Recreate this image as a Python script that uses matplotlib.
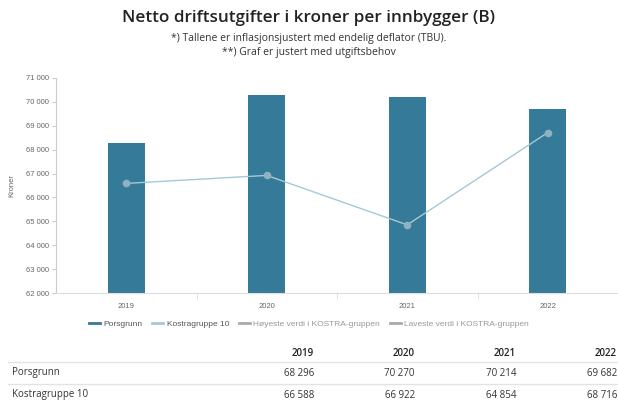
import numpy as np
import matplotlib
matplotlib.use("Agg")
import matplotlib.pyplot as plt
from matplotlib.lines import Line2D

years = ["2019", "2020", "2021", "2022"]
porsgrunn = [68296, 70270, 70214, 69682]
kostra10 = [66588, 66922, 64854, 68716]
legend_labels = ["Porsgrunn", "Kostragruppe 10",
                 "Høyeste verdi i KOSTRA-gruppen", "Laveste verdi i KOSTRA-gruppen"]
row_names = ["Porsgrunn", "Kostragruppe 10"]

bar_col = "#357a99"
line_col = "#a6c8d6"
dot_col = "#8eb2c0"

W, H = 618, 401
fig = plt.figure(figsize=(W / 100, H / 100), dpi=100)

def fx(px):
    return px / W

def fy(py):
    return 1 - py / H

ax = fig.add_axes([fx(56), fy(293), fx(618) - fx(56), fy(78) - fy(293)])
x = np.arange(len(years))
ax.bar(x, porsgrunn, width=0.26, color=bar_col, zorder=2)
ax.plot(x, kostra10, color=line_col, lw=1.0, zorder=3)
ax.plot(x, kostra10, "o", color=dot_col, ms=4.5, zorder=4)

ax.set_xlim(-0.5, 3.5)
ax.set_ylim(62000, 71000)
yt = np.arange(62000, 71001, 1000)
ax.set_yticks(yt)
ax.set_yticklabels([f"{v:,}".replace(",", " ") for v in yt])
ax.set_xticks(x)
ax.set_xticklabels(years)
ax.set_xticks([0.5, 1.5, 2.5], minor=True)
for s in ["top", "right"]:
    ax.spines[s].set_visible(False)
ax.spines["left"].set_color("#cccccc")
ax.spines["bottom"].set_color("#dddddd")
ax.tick_params(axis="y", labelsize=5.5, colors="#cccccc", labelcolor="#666666", length=3, width=0.8, pad=2)
ax.tick_params(axis="x", which="major", length=0, labelsize=5.5, labelcolor="#666666", pad=7)
ax.tick_params(axis="x", which="minor", length=4, color="#dddddd")
for lab in ax.get_xticklabels() + ax.get_yticklabels():
    lab.set_family("Liberation Sans")
ax.set_ylabel("Kroner", fontsize=5.5, color="#666666", family="Liberation Sans", labelpad=8)

fig.text(0.5, fy(18), "Netto driftsutgifter i kroner per innbygger (B)", ha="center", va="center",
         fontsize=12.3, family="Open Sans", weight="semibold", color="#222222")
fig.text(0.5, fy(38), "*) Tallene er inflasjonsjustert med endelig deflator (TBU).", ha="center",
         va="center", fontsize=7.5, family="Open Sans", color="#333333")
fig.text(0.5, fy(53), "**) Graf er justert med utgiftsbehov", ha="center",
         va="center", fontsize=7.5, family="Open Sans", color="#333333")

handles = [Line2D([], [], color=bar_col, lw=2),
           Line2D([], [], color=line_col, lw=2),
           Line2D([], [], color="#aaaaaa", lw=2),
           Line2D([], [], color="#aaaaaa", lw=2)]
leg = fig.legend(handles, legend_labels, loc="center", bbox_to_anchor=(0.5, fy(324)), ncol=4,
                 frameon=False, handlelength=1.3, handletextpad=0.4, columnspacing=1.2,
                 prop={"family": "Liberation Sans", "size": 6})
for t, c in zip(leg.get_texts(), ["#555555", "#555555", "#999999", "#999999"]):
    t.set_color(c)

# table below
col_x = [314, 415, 516, 617]
for cx, yr in zip(col_x, years):
    fig.text(fx(cx), fy(353), yr, ha="right", va="center", fontsize=7, weight="semibold",
             family="Open Sans", color="#222222")
for ly in [362, 384]:
    fig.add_artist(Line2D([fx(8), fx(618)], [fy(ly), fy(ly)], color="#e3e3e3", lw=1))
for ry, name, vals in zip([373, 395], row_names, [porsgrunn, kostra10]):
    fig.text(fx(12), fy(ry), name, ha="left", va="center", fontsize=7, family="Open Sans", color="#333333")
    for cx, v in zip(col_x, vals):
        fig.text(fx(cx), fy(ry), f"{v:,}".replace(",", " "), ha="right", va="center",
                 fontsize=7, family="Open Sans", color="#333333")

fig.savefig("out.png", dpi=100)
